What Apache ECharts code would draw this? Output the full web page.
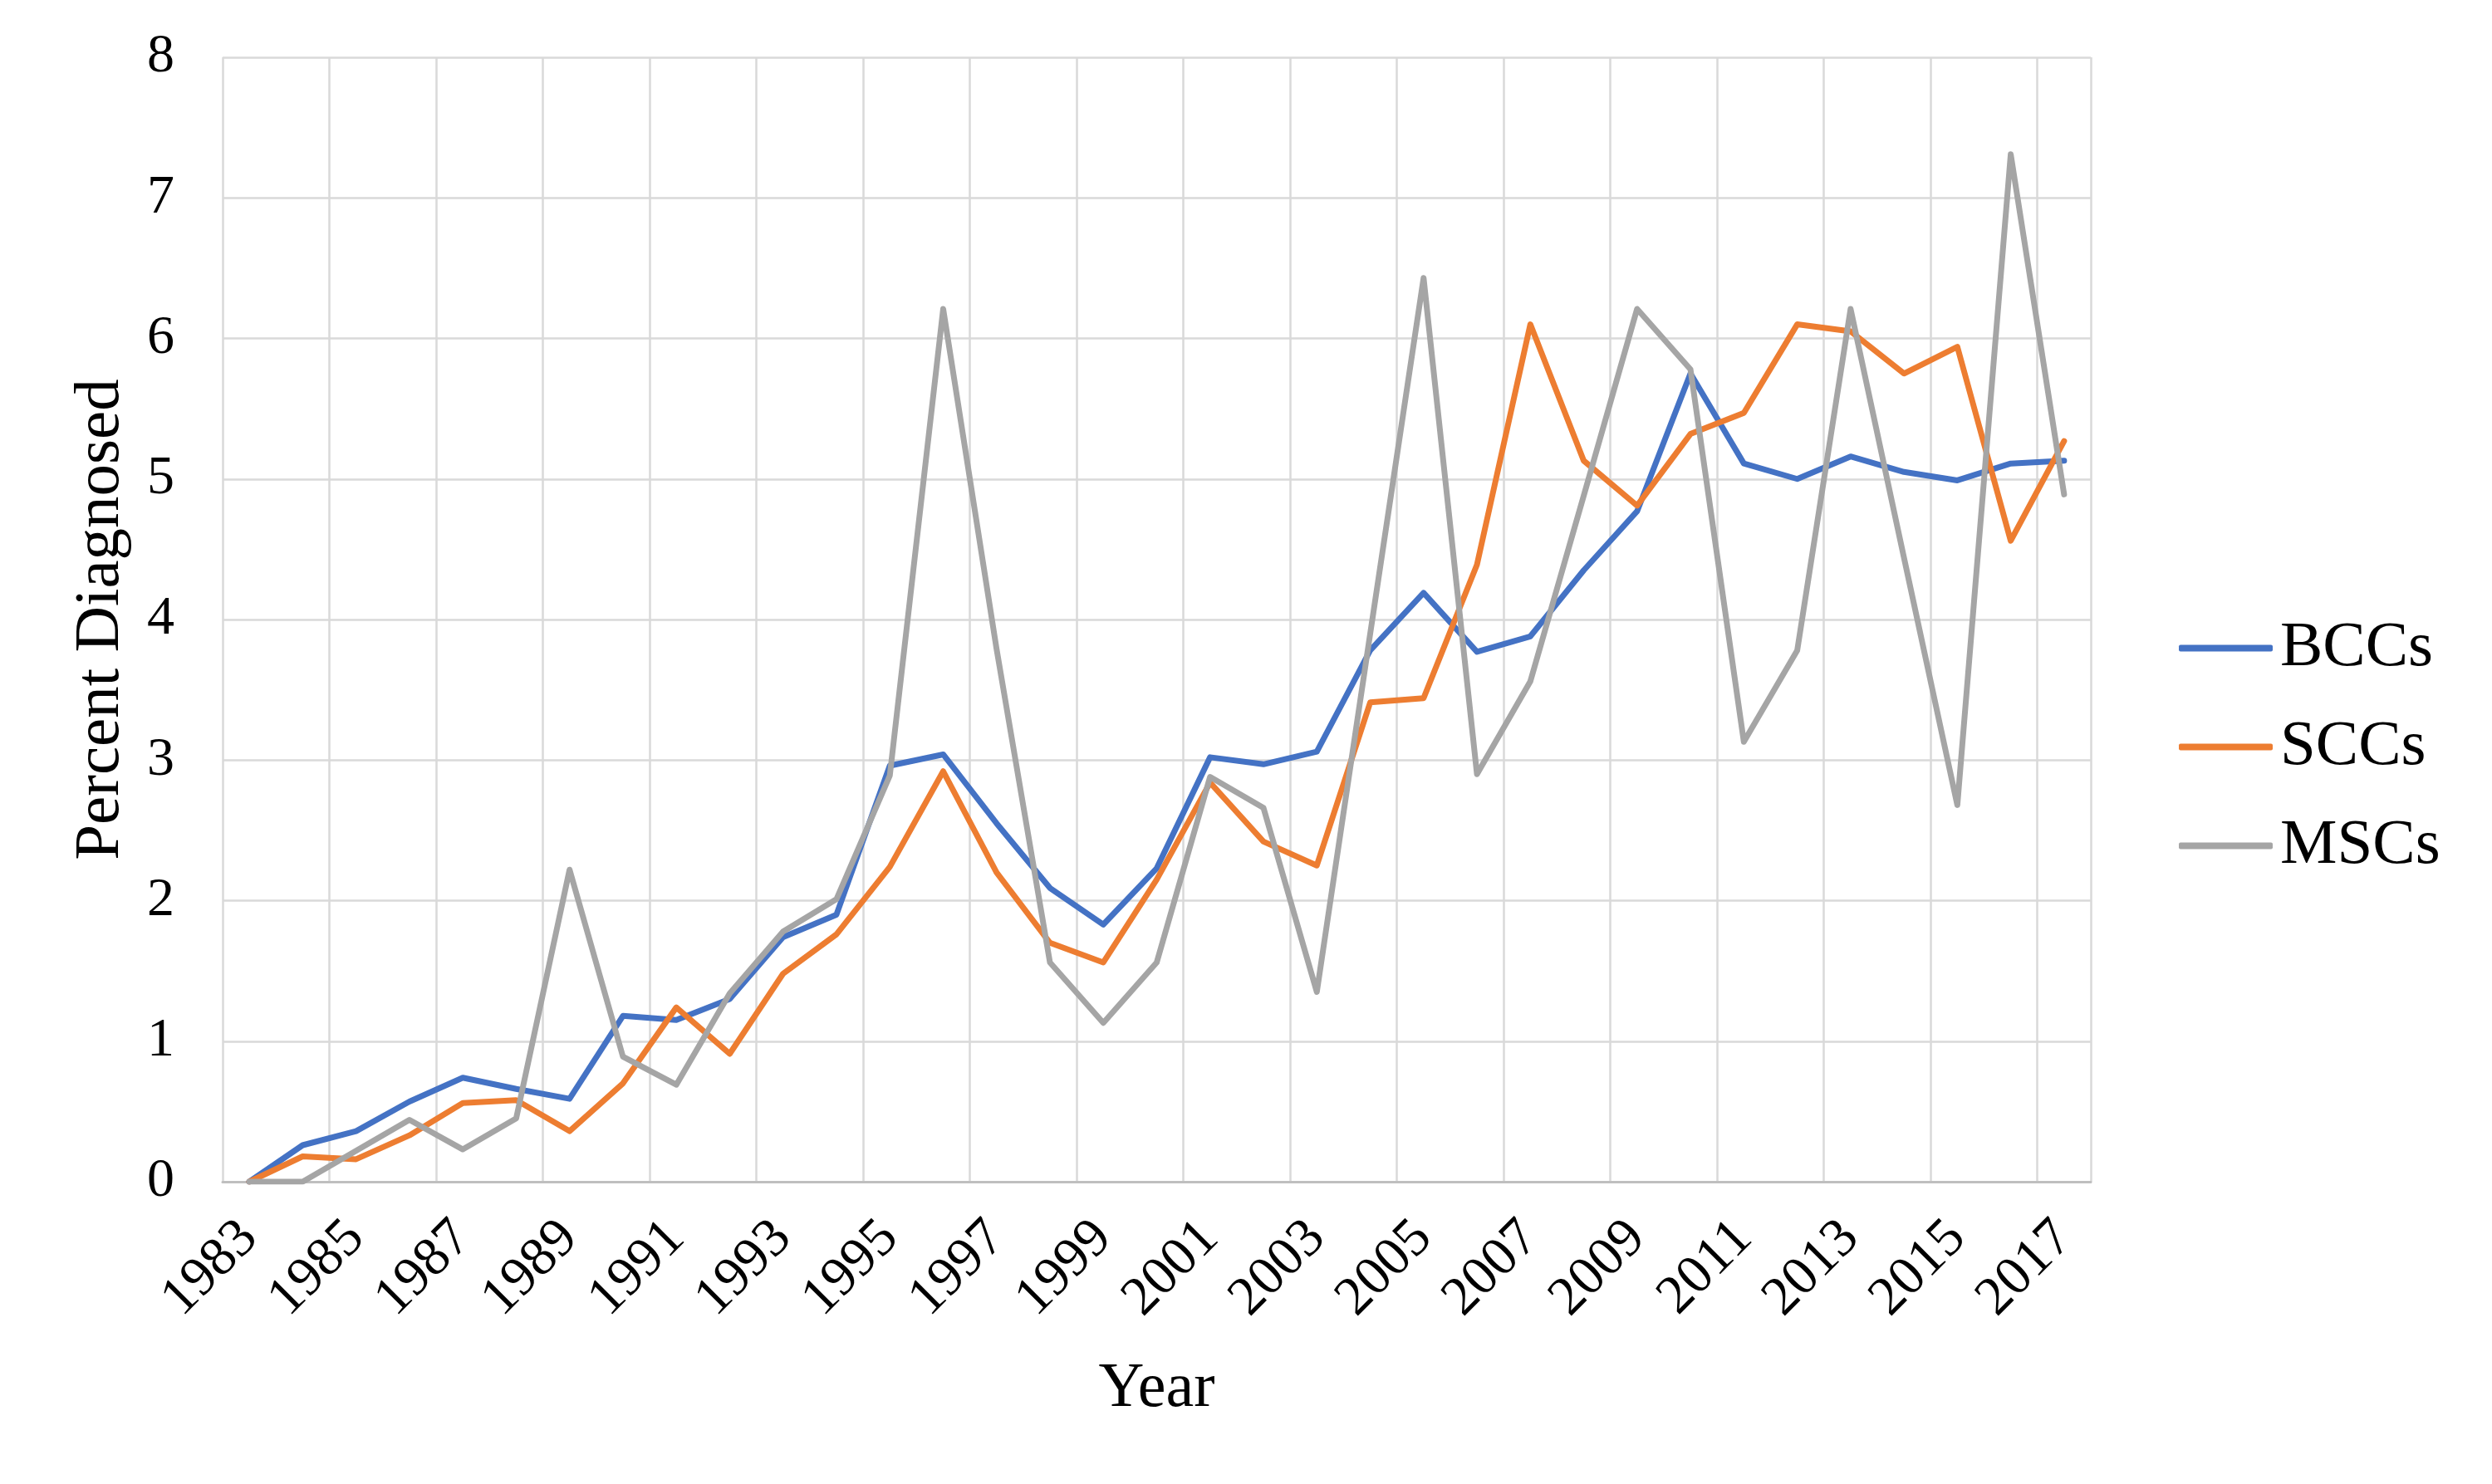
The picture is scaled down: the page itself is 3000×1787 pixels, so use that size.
<!DOCTYPE html>
<html>
<head>
<meta charset="utf-8">
<script src="https://cdn.jsdelivr.net/npm/echarts@6/dist/echarts.min.js"></script>
<style>
html,body{margin:0;padding:0;background:#fff;}
#chart{width:3000px;height:1787px;}
</style>
</head>
<body>
<div id="chart"></div>
<script>
const years = ['1983','1984','1985','1986','1987','1988','1989','1990','1991','1992','1993','1994','1995','1996','1997','1998','1999','2000','2001','2002','2003','2004','2005','2006','2007','2008','2009','2010','2011','2012','2013','2014','2015','2016','2017'];
const bccs = [0, 0.26, 0.36, 0.57, 0.74, 0.66, 0.59, 1.18, 1.15, 1.30, 1.74, 1.90, 2.96, 3.04, 2.55, 2.09, 1.83, 2.23, 3.02, 2.97, 3.06, 3.78, 4.19, 3.77, 3.88, 4.35, 4.77, 5.75, 5.11, 5.00, 5.16, 5.05, 4.99, 5.11, 5.13];
const sccs = [0, 0.18, 0.16, 0.33, 0.56, 0.58, 0.36, 0.70, 1.24, 0.91, 1.48, 1.76, 2.24, 2.92, 2.20, 1.70, 1.56, 2.15, 2.84, 2.42, 2.25, 3.41, 3.44, 4.39, 6.10, 5.13, 4.81, 5.32, 5.47, 6.10, 6.05, 5.75, 5.94, 4.56, 5.27];
const mscs = [0, 0, 0.22, 0.44, 0.23, 0.45, 2.22, 0.89, 0.69, 1.34, 1.78, 2.01, 2.89, 6.21, 3.79, 1.56, 1.13, 1.56, 2.88, 2.66, 1.35, 3.90, 6.43, 2.90, 3.56, 4.88, 6.21, 5.78, 3.13, 3.78, 6.21, 4.44, 2.68, 7.31, 4.89];
const seriesNames = ['BCCs', 'SCCs', 'MSCs'];
const colors = ['#4472C4', '#ED7D31', '#A5A5A5'];

const font = 'Liberation Serif, Times New Roman, serif';
const chart = echarts.init(document.getElementById('chart'));
const dataSets = [bccs, sccs, mscs];
chart.setOption({
  animation: false,
  color: colors,
  grid: { left: 268, right: 483, top: 69, bottom: 364, containLabel: false },
  legend: {
    orient: 'vertical',
    left: 2618,
    top: 737,
    itemWidth: 113,
    itemHeight: 8,
    itemGap: 42,
    icon: 'roundRect',
    data: seriesNames,
    textStyle: { fontFamily: font, fontSize: 77, color: '#000', lineHeight: 76, padding: [0,0,0,4] }
  },
  xAxis: {
    type: 'category',
    data: years,
    boundaryGap: true,
    name: 'Year',
    nameLocation: 'middle',
    nameGap: 212,
    nameTextStyle: { fontFamily: font, fontSize: 76, color: '#000' },
    axisLine: { show: true, lineStyle: { color: '#bfbfbf', width: 3 } },
    axisTick: { show: false },
    axisLabel: { interval: 1, rotate: 45, margin: 58, fontFamily: font, fontSize: 66, color: '#000' },
    splitLine: { show: true, interval: 1, lineStyle: { color: '#d9d9d9', width: 2.5 } }
  },
  yAxis: {
    type: 'value',
    min: 0,
    max: 8,
    interval: 1,
    name: 'Percent Diagnosed',
    nameLocation: 'middle',
    nameGap: 108,
    nameTextStyle: { fontFamily: font, fontSize: 77, color: '#000' },
    axisLine: { show: false },
    axisTick: { show: false },
    axisLabel: { margin: 58, fontFamily: font, fontSize: 66, color: '#000' },
    splitLine: { show: true, lineStyle: { color: '#d9d9d9', width: 2.5 } }
  },
  series: seriesNames.map((n, k) => ({
    name: n,
    type: 'line',
    data: dataSets[k],
    showSymbol: false,
    symbol: 'none',
    lineStyle: { width: 7, color: colors[k], join: 'round', cap: 'round' },
    itemStyle: { color: colors[k] },
    z: 3 + k
  }))
});
</script>
</body>
</html>
